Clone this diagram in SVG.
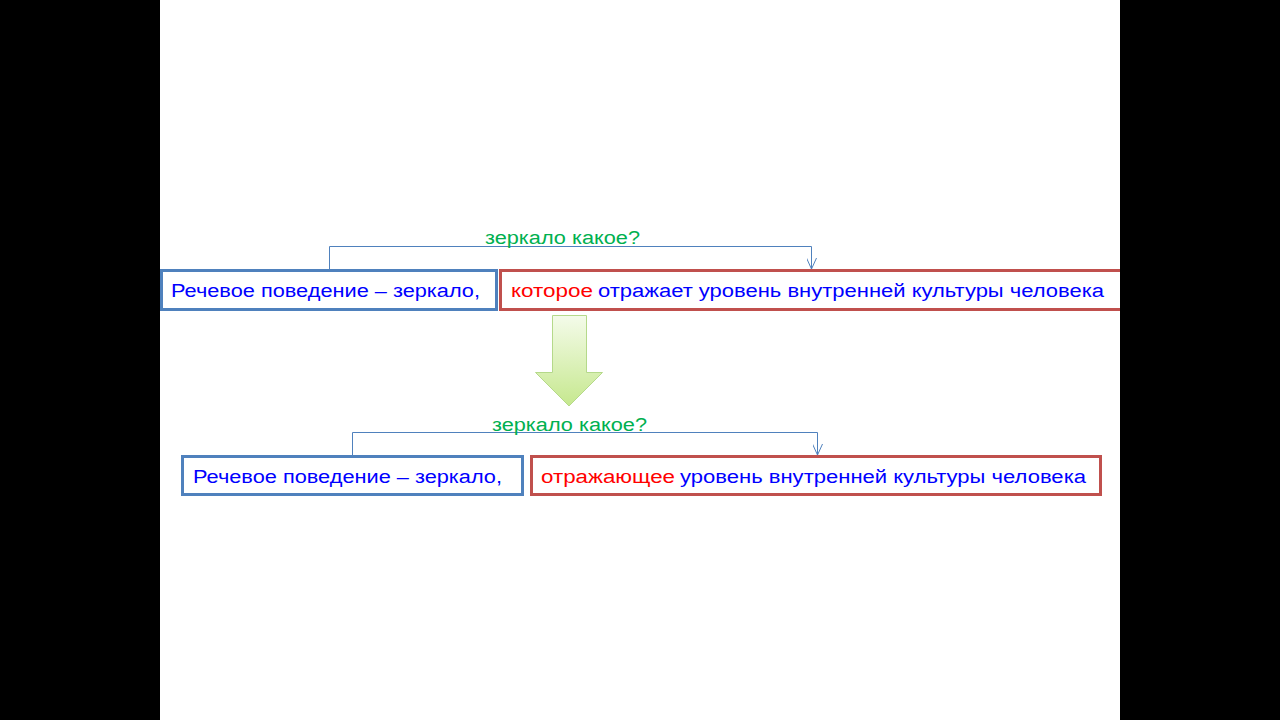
<svg xmlns="http://www.w3.org/2000/svg" width="1280" height="720" viewBox="0 0 1280 720">
<style>
.t{font-family:"Liberation Sans",Arial,sans-serif;font-size:18px}
.b{fill:#0000FF}.r{fill:#FF0000}.g{fill:#00B050}
.bb{fill:#fff;stroke:#4F81BD;stroke-width:3}
.rb{fill:#fff;stroke:#C0504D;stroke-width:3}
.c{fill:none;stroke:#4F81BD;stroke-width:1}
</style>
<defs>
<marker id="ah" viewBox="0 0 12 10" refX="11" refY="5" markerWidth="12" markerHeight="10" markerUnits="userSpaceOnUse" orient="auto">
<path d="M0,0 L11,5 L0,10" fill="none" stroke="#4F81BD" stroke-width="1"/>
</marker>
<linearGradient id="ag" x1="0" y1="0" x2="0" y2="1">
<stop offset="0" stop-color="#F4FBEA"/>
<stop offset="1" stop-color="#C6E88E"/>
</linearGradient>
</defs>
<rect x="0" y="0" width="1280" height="720" fill="#fff"/>
<g id="connectors">
<path class="c" d="M329.5,270 V246.5 H811.5 V269" marker-end="url(#ah)"/>
<path class="c" d="M352.5,456 V432.5 H817.5 V455" marker-end="url(#ah)"/>
</g>
<g id="q1"><text class="t g" x="485" y="244" textLength="155" lengthAdjust="spacingAndGlyphs">зеркало какое?</text></g>
<g id="top-left">
<rect class="bb" x="161.5" y="270.5" width="335" height="39"/>
<text class="t b" x="171" y="297" textLength="309" lengthAdjust="spacingAndGlyphs">Речевое поведение – зеркало,</text>
</g>
<g id="top-right">
<rect class="rb" x="500.5" y="270.5" width="625" height="39"/>
<text class="t" x="511" y="297"><tspan class="r" textLength="82" lengthAdjust="spacingAndGlyphs">которое</tspan></text>
<text class="t b" x="598" y="297" textLength="506" lengthAdjust="spacingAndGlyphs">отражает уровень внутренней культуры человека</text>
</g>
<g id="down-arrow">
<path d="M552.5,315.5 H586.5 V372.5 H602.5 L569,406 L535.5,372.5 H552.5 Z" fill="url(#ag)" stroke="#B5D98A" stroke-width="1"/>
</g>
<g id="q2"><text class="t g" x="492" y="431" textLength="155" lengthAdjust="spacingAndGlyphs">зеркало какое?</text></g>
<g id="bottom-left">
<rect class="bb" x="182.5" y="456.5" width="340" height="38"/>
<text class="t b" x="193" y="483" textLength="309" lengthAdjust="spacingAndGlyphs">Речевое поведение – зеркало,</text>
</g>
<g id="bottom-right">
<rect class="rb" x="531.5" y="456.5" width="569" height="38"/>
<text class="t r" x="541" y="483" textLength="134" lengthAdjust="spacingAndGlyphs">отражающее</text>
<text class="t b" x="680" y="483" textLength="406" lengthAdjust="spacingAndGlyphs">уровень внутренней культуры человека</text>
</g>
<rect x="0" y="0" width="160" height="720" fill="#000"/>
<rect x="1120" y="0" width="160" height="720" fill="#000"/>
</svg>
